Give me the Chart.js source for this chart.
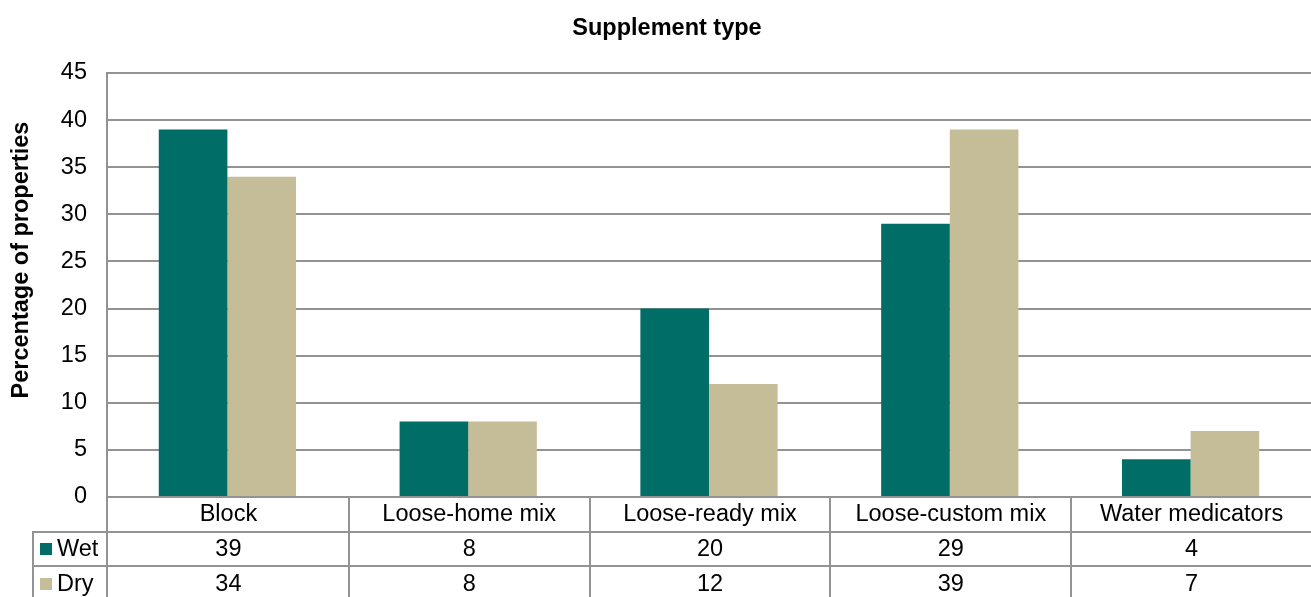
<!DOCTYPE html>
<html>
<head>
<meta charset="utf-8">
<script src="https://cdn.jsdelivr.net/npm/chart.js@4/dist/chart.umd.min.js"></script>
<style>
  html, body { margin: 0; padding: 0; background: #ffffff; }
  #wrap { width: 1311px; height: 597px; }
</style>
</head>
<body>
<div id="wrap"><canvas id="c" width="1311" height="597"></canvas></div>
<script>
// ---- data ----
const categories = ["Block", "Loose-home mix", "Loose-ready mix", "Loose-custom mix", "Water medicators"];
const wetValues = [39, 8, 20, 29, 4];
const dryValues = [34, 8, 12, 39, 7];
const seriesNames = ["Wet", "Dry"];
const yTicks = [0, 5, 10, 15, 20, 25, 30, 35, 40, 45];
const chartTitle = "Supplement type";
const yTitle = "Percentage of properties";

// ---- styles ----
const FONT = '"Liberation Sans", Arial, sans-serif';
const FS = 23.5;
const GRID = '#939393';
const COLORS = ['#006e66', '#c4bd97'];

const tablePlugin = {
  id: 'tablePlugin',
  afterDraw(chart) {
    const ctx = chart.ctx;
    const xs = chart.scales.x;
    const ca = chart.chartArea;
    const n = categories.length;
    const step = xs.getPixelForValue(1) - xs.getPixelForValue(0);
    const rowH = 34.7;
    const legendLeft = 33;
    const bottom = chart.height;
    const r1 = ca.bottom + rowH;
    const r2 = ca.bottom + 2 * rowH;
    const al = v => Math.round(v);

    ctx.save();
    ctx.strokeStyle = GRID;
    ctx.lineWidth = 2;
    ctx.beginPath();
    [r1, r2].forEach(yy => {
      ctx.moveTo(legendLeft - 1, al(yy));
      ctx.lineTo(ca.right, al(yy));
    });
    ctx.moveTo(al(legendLeft), al(r1));
    ctx.lineTo(al(legendLeft), bottom);
    // left edge continues the y-axis line
    ctx.moveTo(al(ca.left), ca.bottom);
    ctx.lineTo(al(ca.left), bottom);
    for (let i = 1; i < n; i++) {
      const bx = xs.getPixelForValue(i) - step / 2 + 1;
      ctx.moveTo(al(bx), ca.bottom);
      ctx.lineTo(al(bx), bottom);
    }
    ctx.stroke();

    ctx.fillStyle = '#000';
    ctx.font = FS + 'px ' + FONT;
    ctx.textAlign = 'center';
    ctx.textBaseline = 'middle';
    const rows = [wetValues, dryValues];
    for (let i = 0; i < n; i++) {
      const cx = xs.getPixelForValue(i) + 1;
      ctx.fillText(categories[i], cx, ca.bottom + rowH / 2 + 0.5);
      rows.forEach((vals, r) => {
        ctx.fillText(String(vals[i]), cx, ca.bottom + rowH * (r + 1.5) + 0.5);
      });
    }
    ctx.textAlign = 'left';
    seriesNames.forEach((name, r) => {
      const cy = ca.bottom + rowH * (r + 1.5);
      ctx.fillStyle = COLORS[r];
      ctx.fillRect(40, Math.round(cy - 6), 12, 12);
      ctx.fillStyle = '#000';
      ctx.fillText(name, 57, cy + 0.5);
    });

    ctx.font = 'bold ' + FS + 'px ' + FONT;
    ctx.textAlign = 'center';
    ctx.textBaseline = 'alphabetic';
    ctx.fillText(chartTitle, 667, 35);

    ctx.save();
    ctx.translate(28, 260);
    ctx.rotate(-Math.PI / 2);
    ctx.textAlign = 'center';
    ctx.textBaseline = 'alphabetic';
    ctx.fillText(yTitle, 0, 0);
    ctx.restore();
    ctx.restore();
  }
};

new Chart(document.getElementById('c'), {
  type: 'bar',
  data: {
    labels: categories,
    datasets: [
      { label: seriesNames[0], data: wetValues, backgroundColor: COLORS[0], borderWidth: 0 },
      { label: seriesNames[1], data: dryValues, backgroundColor: COLORS[1], borderWidth: 0 }
    ]
  },
  options: {
    responsive: false,
    animation: false,
    devicePixelRatio: 1,
    layout: { padding: { top: 73, bottom: 100, left: 0, right: 0 } },
    datasets: { bar: { categoryPercentage: 0.57, barPercentage: 1.0 } },
    plugins: {
      legend: { display: false },
      title: { display: false },
      tooltip: { enabled: false }
    },
    scales: {
      x: {
        display: false
      },
      y: {
        min: yTicks[0],
        max: yTicks[yTicks.length - 1],
        afterBuildTicks(scale) { scale.ticks = yTicks.map(v => ({ value: v })); },
        afterFit(scale) { scale.width = 107; },
        ticks: {
          color: '#000',
          padding: 20,
          font: { family: FONT, size: FS }
        },
        grid: { color: GRID, lineWidth: 2, drawTicks: false },
        border: { display: true, color: GRID, width: 2 }
      }
    }
  },
  plugins: [tablePlugin]
});
</script>
</body>
</html>
